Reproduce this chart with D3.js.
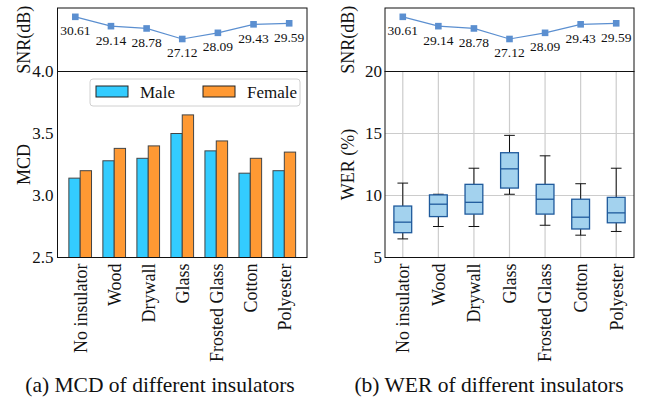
<!DOCTYPE html>
<html lang="en">
<head>
<meta charset="utf-8">
<script src="https://d3js.org/d3.v7.min.js"></script>
<style>
  body { margin: 0; background: #fff; }
  svg text { font-family: "Liberation Serif", serif; fill: #111; }
</style>
</head>
<body>
<div id="chart"></div>
<script>

// data
var insulators = ["No insulator", "Wood", "Drywall", "Glass", "Frosted Glass", "Cotton", "Polyester"];
var snr = [30.61, 29.14, 28.78, 27.12, 28.09, 29.43, 29.59];
var mcdMale   = [3.14, 3.28, 3.30, 3.50, 3.36, 3.18, 3.20];
var mcdFemale = [3.20, 3.38, 3.40, 3.65, 3.44, 3.30, 3.35];
var werLow  = [6.5, 7.5, 7.5, 10.1, 7.6, 6.8, 7.1];
var werQ1   = [7.0, 8.3, 8.5, 10.6, 8.5, 7.3, 7.8];
var werMed  = [7.85, 9.3, 9.45, 12.15, 9.7, 8.25, 8.6];
var werQ3   = [9.15, 10.05, 10.9, 13.45, 10.9, 9.7, 9.85];
var werHigh = [11.0, 10.1, 12.2, 14.85, 13.2, 10.95, 12.2];
var mcdTicks = [2.5, 3.0, 3.5, 4.0];
var werTicks = [5, 10, 15, 20];
var seriesNames = ["Male", "Female"];

var w = 645, h = 403;
var svg = d3.select("#chart").append("svg")
  .attr("width", w).attr("height", h)
  .attr("font-family", "Liberation Serif, serif");

var idx = d3.range(insulators.length);

// shared vertical layout
var topY0 = 8, topY1 = 71.5, botY1 = 257.5;

function snrPanel(x0, x1, labelX) {
  var x = d3.scaleLinear().domain([-0.5, 6.5]).range([x0, x1]);
  var y = d3.scaleLinear().domain([22, 32]).range([topY1, topY0]);
  var g = svg.append("g");

  var line = d3.line().x(function(d, i){ return x(i); }).y(function(d){ return y(d); });
  g.append("path").datum(snr)
    .attr("d", line).attr("fill", "none")
    .attr("stroke", "#5b8fd0").attr("stroke-width", 1.2);

  g.selectAll("rect.mk").data(snr).enter().append("rect")
    .attr("class", "mk")
    .attr("x", function(d, i){ return x(i) - 3.3; })
    .attr("y", function(d){ return y(d) - 3.3; })
    .attr("width", 6.6).attr("height", 6.6)
    .attr("fill", "#5b8fd0");

  g.selectAll("text.ann").data(snr).enter().append("text")
    .attr("class", "ann")
    .attr("x", function(d, i){ return x(i); })
    .attr("y", function(d){ return y(d) + 18.5; })
    .attr("text-anchor", "middle")
    .style("font-size", "13.5px")
    .text(function(d){ return d.toFixed(2); });

  g.append("rect")
    .attr("x", x0).attr("y", topY0)
    .attr("width", x1 - x0).attr("height", topY1 - topY0)
    .attr("fill", "none").attr("stroke", "#111").attr("stroke-width", 1);

  g.append("text")
    .attr("transform", "translate(" + labelX + "," + ((topY0 + topY1) / 2) + ") rotate(-90)")
    .attr("text-anchor", "middle")
    .style("font-size", "18px")
    .text("SNR(dB)");
}

function xLabels(g, x) {
  g.selectAll("text.xl").data(insulators).enter().append("text")
    .attr("class", "xl")
    .attr("transform", function(d, i){ return "translate(" + x(i) + "," + (botY1 + 6) + ") rotate(-90)"; })
    .attr("text-anchor", "end")
    .attr("dy", "0.35em")
    .style("font-size", "18px")
    .text(function(d){ return d; });
}

// ---------- (a) MCD ----------
var ax0 = 57.5, ax1 = 307;
snrPanel(ax0, ax1, 30);

var xa = d3.scaleLinear().domain([-0.667, 6.667]).range([ax0, ax1]);
var ya = d3.scaleLinear().domain([2.5, 4.0]).range([botY1, topY1]);
var bw = 0.333;
var ga = svg.append("g");

ga.selectAll("rect.male").data(mcdMale).enter().append("rect")
  .attr("class", "male")
  .attr("x", function(d, i){ return xa(i - bw); })
  .attr("y", function(d){ return ya(d); })
  .attr("width", xa(bw) - xa(0))
  .attr("height", function(d){ return ya(2.5) - ya(d); })
  .attr("fill", "#33ccff").attr("stroke", "#444").attr("stroke-width", 1);

ga.selectAll("rect.female").data(mcdFemale).enter().append("rect")
  .attr("class", "female")
  .attr("x", function(d, i){ return xa(i); })
  .attr("y", function(d){ return ya(d); })
  .attr("width", xa(bw) - xa(0))
  .attr("height", function(d){ return ya(2.5) - ya(d); })
  .attr("fill", "#ff9933").attr("stroke", "#444").attr("stroke-width", 1);

ga.append("rect")
  .attr("x", ax0).attr("y", topY1)
  .attr("width", ax1 - ax0).attr("height", botY1 - topY1)
  .attr("fill", "none").attr("stroke", "#111").attr("stroke-width", 1);

var yaxA = ga.append("g").attr("transform", "translate(" + ax0 + ",0)")
  .call(d3.axisLeft(ya).tickValues(mcdTicks).tickFormat(d3.format(".1f")).tickSize(0).tickPadding(4));
yaxA.select(".domain").remove();
yaxA.attr("font-family", null);
yaxA.selectAll("text").style("font-size", "17px");

xLabels(ga, xa);

ga.append("text")
  .attr("transform", "translate(30," + ((topY1 + botY1) / 2) + ") rotate(-90)")
  .attr("text-anchor", "middle")
  .style("font-size", "18px")
  .text("MCD");

// legend
var lg = ga.append("g");
lg.append("rect")
  .attr("x", 90).attr("y", 79).attr("width", 210).attr("height", 27)
  .attr("rx", 3).attr("fill", "#fff").attr("fill-opacity", 0.85)
  .attr("stroke", "#d0d0d0").attr("stroke-width", 1);
var legColors = ["#33ccff", "#ff9933"];
var legX = [96, 203];
lg.selectAll("rect.pt").data(seriesNames).enter().append("rect")
  .attr("class", "pt")
  .attr("x", function(d, i){ return legX[i]; }).attr("y", 86)
  .attr("width", 32).attr("height", 11)
  .attr("fill", function(d, i){ return legColors[i]; })
  .attr("stroke", "#222").attr("stroke-width", 1);
lg.selectAll("text.lt").data(seriesNames).enter().append("text")
  .attr("class", "lt")
  .attr("x", function(d, i){ return legX[i] + 44; }).attr("y", 97.5)
  .style("font-size", "17px")
  .text(function(d){ return d; });

// ---------- (b) WER ----------
var bx0 = 385, bx1 = 634;
snrPanel(bx0, bx1, 354);

var xb = d3.scaleLinear().domain([-0.5, 6.5]).range([bx0, bx1]);
var yb = d3.scaleLinear().domain([5, 20]).range([botY1, topY1]);
var gb = svg.append("g");

// grid
gb.selectAll("line.gx").data(idx).enter().append("line")
  .attr("x1", function(d){ return xb(d); }).attr("x2", function(d){ return xb(d); })
  .attr("y1", topY1).attr("y2", botY1)
  .attr("stroke", "#cccccc").attr("stroke-width", 1.2);
gb.selectAll("line.gy").data(werTicks).enter().append("line")
  .attr("x1", bx0).attr("x2", bx1)
  .attr("y1", function(d){ return yb(d); }).attr("y2", function(d){ return yb(d); })
  .attr("stroke", "#cccccc").attr("stroke-width", 1.2);

var boxW = 0.5, capW = 0.3;
// whiskers
gb.selectAll("line.wl").data(idx).enter().append("line")
  .attr("x1", function(i){ return xb(i); }).attr("x2", function(i){ return xb(i); })
  .attr("y1", function(i){ return yb(werLow[i]); }).attr("y2", function(i){ return yb(werQ1[i]); })
  .attr("stroke", "#111").attr("stroke-width", 1);
gb.selectAll("line.wh").data(idx).enter().append("line")
  .attr("x1", function(i){ return xb(i); }).attr("x2", function(i){ return xb(i); })
  .attr("y1", function(i){ return yb(werHigh[i]); }).attr("y2", function(i){ return yb(werQ3[i]); })
  .attr("stroke", "#111").attr("stroke-width", 1);
gb.selectAll("line.cl").data(idx).enter().append("line")
  .attr("x1", function(i){ return xb(i - capW / 2); }).attr("x2", function(i){ return xb(i + capW / 2); })
  .attr("y1", function(i){ return yb(werLow[i]); }).attr("y2", function(i){ return yb(werLow[i]); })
  .attr("stroke", "#111").attr("stroke-width", 1);
gb.selectAll("line.ch").data(idx).enter().append("line")
  .attr("x1", function(i){ return xb(i - capW / 2); }).attr("x2", function(i){ return xb(i + capW / 2); })
  .attr("y1", function(i){ return yb(werHigh[i]); }).attr("y2", function(i){ return yb(werHigh[i]); })
  .attr("stroke", "#111").attr("stroke-width", 1);
// boxes
gb.selectAll("rect.box").data(idx).enter().append("rect")
  .attr("class", "box")
  .attr("x", function(i){ return xb(i - boxW / 2); })
  .attr("y", function(i){ return yb(werQ3[i]); })
  .attr("width", xb(boxW) - xb(0))
  .attr("height", function(i){ return yb(werQ1[i]) - yb(werQ3[i]); })
  .attr("fill", "#a3d2ee").attr("stroke", "#1f5a9c").attr("stroke-width", 1.3);
gb.selectAll("line.med").data(idx).enter().append("line")
  .attr("x1", function(i){ return xb(i - boxW / 2); }).attr("x2", function(i){ return xb(i + boxW / 2); })
  .attr("y1", function(i){ return yb(werMed[i]); }).attr("y2", function(i){ return yb(werMed[i]); })
  .attr("stroke", "#1f5a9c").attr("stroke-width", 1.3);

gb.append("rect")
  .attr("x", bx0).attr("y", topY1)
  .attr("width", bx1 - bx0).attr("height", botY1 - topY1)
  .attr("fill", "none").attr("stroke", "#111").attr("stroke-width", 1);

var yaxB = gb.append("g").attr("transform", "translate(" + bx0 + ",0)")
  .call(d3.axisLeft(yb).tickValues(werTicks).tickSize(0).tickPadding(3));
yaxB.select(".domain").remove();
yaxB.attr("font-family", null);
yaxB.selectAll("text").style("font-size", "17px");

xLabels(gb, xb);

gb.append("text")
  .attr("transform", "translate(354," + ((topY1 + botY1) / 2) + ") rotate(-90)")
  .attr("text-anchor", "middle")
  .style("font-size", "18px")
  .text("WER (%)");

// captions
svg.append("text").attr("x", 160).attr("y", 392).attr("text-anchor", "middle")
  .style("font-size", "21.5px").text("(a) MCD of different insulators");
svg.append("text").attr("x", 489).attr("y", 392).attr("text-anchor", "middle")
  .style("font-size", "21.5px").text("(b) WER of different insulators");

</script>
</body>
</html>
